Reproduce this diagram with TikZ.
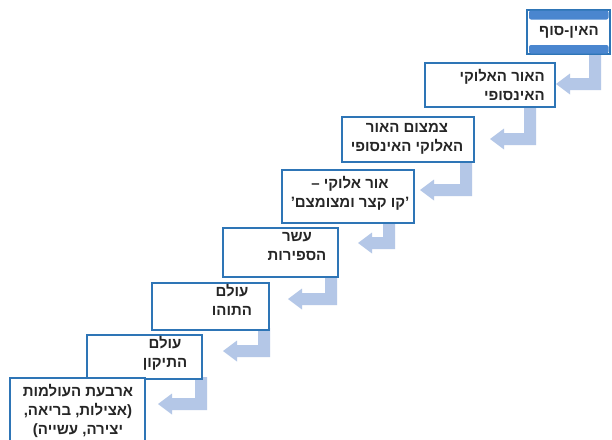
\documentclass[tikz,border=0pt]{standalone}
\usepackage{fontspec}
\TeXXeTstate=1
\newfontfamily\heb[Script=Hebrew]{Liberation Sans Bold}
\definecolor{boxblue}{HTML}{2E75B6}
\definecolor{bandblue}{HTML}{4A86CF}
\definecolor{arrblue}{HTML}{B4C7E7}
\tikzset{
  stepbox/.style={draw=boxblue, line width=1.6pt, fill=white, rectangle, inner sep=0pt},
  steptext/.style={font=\heb\fontsize{15}{19}\selectfont, align=center, inner sep=0pt, text=black!85},
  stepband/.style={fill=bandblue, rounded corners=2pt},
  arrowfill/.style={fill=arrblue, draw=none}
}
\newcommand\bentarrow[4]{%
  \fill[arrowfill] (#1,#2) -- ({#1+12},#2) -- ({#1+12},{#3+6}) -- ({#4+14},{#3+6})
    -- ({#4+14},{#3+10.5}) -- (#4,#3) -- ({#4+14},{#3-10.5}) -- ({#4+14},{#3-6})
    -- (#1,{#3-6}) -- cycle;}
\newcommand\RL[1]{\beginR #1\endR}
\begin{document}
\begin{tikzpicture}[x=1pt,y=-1pt]
\useasboundingbox (0,0) rectangle (612,439);
\fill[white] (0,0) rectangle (612,439);

% bent arrows (behind boxes)
\bentarrow{589}{52}{84}{556}
\bentarrow{524}{105}{139}{490}
\bentarrow{460}{160}{190}{420}
\bentarrow{383}{221}{243}{358}
\bentarrow{325}{275}{299}{288}
\bentarrow{258}{328}{351}{223}
\bentarrow{195}{377}{404}{158}

% boxes
\node[stepbox, minimum width=83pt, minimum height=44pt] (b1) at (568.5,32) {};
\fill[stepband] (529,10.5) rectangle (608.5,19.5);
\fill[stepband] (529,45) rectangle (608.5,53.5);
\node[stepbox, minimum width=130pt, minimum height=44pt] (b2) at (490,85) {};
\node[stepbox, minimum width=132pt, minimum height=45pt] (b3) at (408,139.5) {};
\node[stepbox, minimum width=132pt, minimum height=53pt] (b4) at (348,196.5) {};
\node[stepbox, minimum width=115pt, minimum height=49pt] (b5) at (280.5,252.5) {};
\node[stepbox, minimum width=117pt, minimum height=47pt] (b6) at (210.5,306.5) {};
\node[stepbox, minimum width=115pt, minimum height=44pt] (b7) at (144.5,357) {};
\node[stepbox, minimum width=135pt, minimum height=72pt] (b8) at (77.5,414) {};

% texts
\node[steptext] (t1) at (569,32) {\RL{האין-סוף}};
\node[steptext, align=right, anchor=east] (t2) at (545,84.5) {\RL{האור האלוקי}\\\RL{האינסופי}};
\node[steptext] (t3) at (407,138.5) {\RL{צמצום האור}\\\RL{האלוקי האינסופי}};
\node[steptext] (t4) at (350,193) {\RL{אור אלוקי –}\\\RL{’קו קצר ומצומצם’}};
\node[steptext] (t5) at (297,246.5) {\RL{עשר}\\\RL{הספירות}};
\node[steptext] (t6) at (232,300) {\RL{עולם}\\\RL{התוהו}};
\node[steptext] (t7) at (165,353) {\RL{עולם}\\\RL{התיקון}};
\node[steptext] (t8) at (78,411) {\RL{ארבעת העולמות}\\\RL{(אצילות, בריאה,}\\\RL{יצירה, עשייה)}};
\end{tikzpicture}
\end{document}
